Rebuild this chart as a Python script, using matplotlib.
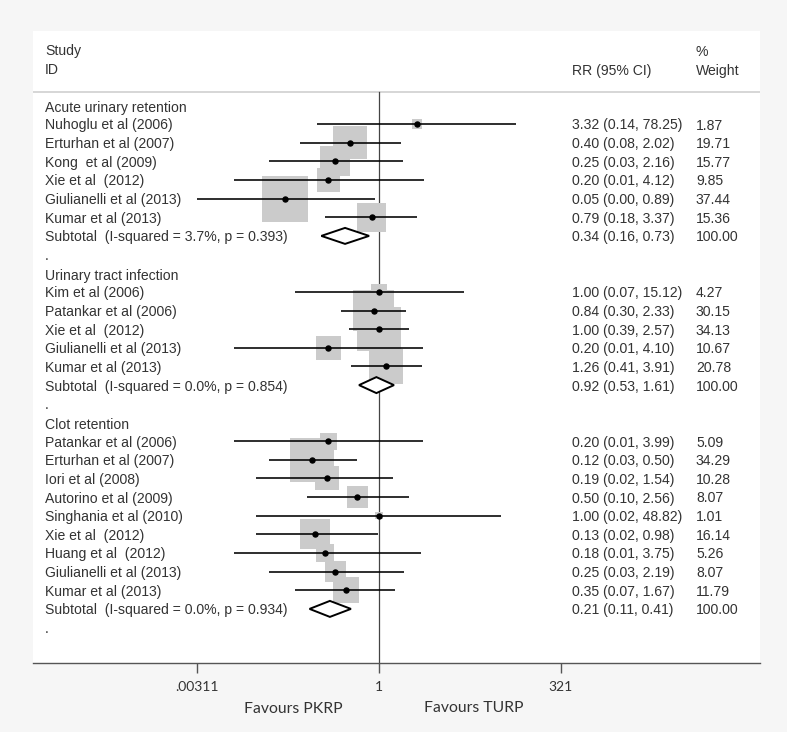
import numpy as np
import matplotlib
matplotlib.use("Agg")
import matplotlib.pyplot as plt

# ---------------- data ----------------
groups = ["Acute urinary retention", "Urinary tract infection", "Clot retention"]

aur_studies = ["Nuhoglu et al (2006)", "Erturhan et al (2007)", "Kong  et al (2009)",
               "Xie et al  (2012)", "Giulianelli et al (2013)", "Kumar et al (2013)"]
aur_rr = [3.32, 0.40, 0.25, 0.20, 0.05, 0.79]
aur_lo = [0.14, 0.08, 0.03, 0.01, 0.0031, 0.18]
aur_hi = [78.25, 2.02, 2.16, 4.12, 0.89, 3.37]
aur_w = [1.87, 19.71, 15.77, 9.85, 37.44, 15.36]
aur_sub = (0.34, 0.16, 0.73)
aur_het = "Subtotal  (I-squared = 3.7%, p = 0.393)"

uti_studies = ["Kim et al (2006)", "Patankar et al (2006)", "Xie et al  (2012)",
               "Giulianelli et al (2013)", "Kumar et al (2013)"]
uti_rr = [1.00, 0.84, 1.00, 0.20, 1.26]
uti_lo = [0.07, 0.30, 0.39, 0.01, 0.41]
uti_hi = [15.12, 2.33, 2.57, 4.10, 3.91]
uti_w = [4.27, 30.15, 34.13, 10.67, 20.78]
uti_sub = (0.92, 0.53, 1.61)
uti_het = "Subtotal  (I-squared = 0.0%, p = 0.854)"

clot_studies = ["Patankar et al (2006)", "Erturhan et al (2007)", "Iori et al (2008)",
                "Autorino et al (2009)", "Singhania et al (2010)", "Xie et al  (2012)",
                "Huang et al  (2012)", "Giulianelli et al (2013)", "Kumar et al (2013)"]
clot_rr = [0.20, 0.12, 0.19, 0.50, 1.00, 0.13, 0.18, 0.25, 0.35]
clot_lo = [0.01, 0.03, 0.02, 0.10, 0.02, 0.02, 0.01, 0.03, 0.07]
clot_hi = [3.99, 0.50, 1.54, 2.56, 48.82, 0.98, 3.75, 2.19, 1.67]
clot_w = [5.09, 34.29, 10.28, 8.07, 1.01, 16.14, 5.26, 8.07, 11.79]
clot_sub = (0.21, 0.11, 0.41)
clot_het = "Subtotal  (I-squared = 0.0%, p = 0.934)"

xticks = [0.00311, 1, 321]
xticklabels = [".00311", "1", "321"]
favour_left = "Favours PKRP"
favour_right = "Favours TURP"

# ---------------- layout ----------------
W, H = 787, 732
fig = plt.figure(figsize=(W / 100, H / 100), dpi=100)
fig.patch.set_facecolor("#f6f6f6")

ax_l, ax_r, ax_t, ax_b = 33, 760, 31, 663.3
ax = fig.add_axes([ax_l / W, (H - ax_b) / H, (ax_r - ax_l) / W, (ax_b - ax_t) / H])
ax.set_facecolor("white")

px_per_ln = 31.47
x_one = 379.0
ax.set_xscale("log")
ax.set_xlim(np.exp((ax_l - x_one) / px_per_ln), np.exp((ax_r - x_one) / px_per_ln))

row0_px, row_px = 105.35, 18.65
def px2row(p):
    return (p - row0_px) / row_px
ax.set_ylim(px2row(ax_b), px2row(ax_t))

TXT = "#333333"
FONT = ["Liberation Sans", "DejaVu Sans"]
FS = 10.05
TOFF = 1.5 / row_px  # small downward shift of text relative to marks
x_lab = np.exp((45 - x_one) / px_per_ln)
x_rr = np.exp((572 - x_one) / px_per_ln)
x_wt = np.exp((696 - x_one) / px_per_ln)

def txt(x, y, s, **kw):
    ax.text(x, y + TOFF, s, fontsize=FS, color=TXT, family=FONT, va="center", ha="left", **kw)

# header
txt(x_lab, px2row(50), "Study")
txt(x_lab, px2row(69), "ID")
txt(x_rr, px2row(69), "RR (95% CI)")
txt(x_wt, px2row(50), "%")
txt(x_wt, px2row(69), "Weight")
sep_row = px2row(91.5)
ax.axhline(sep_row, color="#cfcfcf", lw=1.2, zorder=1)

# null line
ax.plot([1, 1], [sep_row, px2row(ax_b)], color="#444444", lw=0.9, zorder=2, clip_on=False)

box_k = 29.3  # marker area (pt^2) per weight percent

blocks = [
    (groups[0], aur_studies, aur_rr, aur_lo, aur_hi, aur_w, aur_sub, aur_het),
    (groups[1], uti_studies, uti_rr, uti_lo, uti_hi, uti_w, uti_sub, uti_het),
    (groups[2], clot_studies, clot_rr, clot_lo, clot_hi, clot_w, clot_sub, clot_het),
]

def fmt(v):
    return f"{v:.2f}"

r = 0
for gname, studies, rr, lo, hi, w, sub, het in blocks:
    txt(x_lab, r + 0.08, gname)
    r += 1
    rows = np.arange(r, r + len(studies))
    ax.scatter(rr, rows, s=np.array(w) * box_k, marker="s", color="#cbcbcb",
               edgecolors="none", zorder=3)
    ax.hlines(rows, lo, hi, color="black", lw=1.15, zorder=4)
    ax.plot(rr, rows, "o", color="black", ms=3.6, zorder=5)
    for i, rw in enumerate(rows):
        txt(x_lab, rw, studies[i])
        txt(x_rr, rw, f"{fmt(rr[i])} ({fmt(lo[i])}, {fmt(hi[i])})")
        txt(x_wt, rw, fmt(w[i]))
    r += len(studies)
    # subtotal diamond
    est, slo, shi = sub
    hh = 8.0 / row_px
    ax.fill([slo, est, shi, est, slo], [r, r - hh, r, r + hh, r], facecolor="white",
            edgecolor="black", lw=1.4, zorder=5, joinstyle="miter")
    txt(x_lab, r, het)
    txt(x_rr, r, f"{fmt(est)} ({fmt(slo)}, {fmt(shi)})")
    txt(x_wt, r, "100.00")
    r += 1
    txt(x_lab, r, ".")
    r += 1

# axes styling
for sp in ["top", "left", "right"]:
    ax.spines[sp].set_visible(False)
ax.spines["bottom"].set_color("#555555")
ax.spines["bottom"].set_linewidth(1.0)
ax.set_yticks([])
ax.set_xticks(xticks, xticklabels)
ax.xaxis.set_minor_locator(matplotlib.ticker.NullLocator())
ax.tick_params(axis="x", direction="out", length=7, width=1.0, color="#555555",
               labelsize=10, labelcolor=TXT, pad=6)
for lab in ax.get_xticklabels():
    lab.set_family(["Lato", "DejaVu Sans"])

fig.text(293 / W, 1 - 709 / H, favour_left, ha="center", va="center", fontsize=11.3,
         color=TXT, family=["Lato", "DejaVu Sans"])
fig.text(474 / W, 1 - 708 / H, favour_right, ha="center", va="center", fontsize=11.3,
         color=TXT, family=["Lato", "DejaVu Sans"])

fig.savefig("out.png", dpi=100, facecolor=fig.get_facecolor())
